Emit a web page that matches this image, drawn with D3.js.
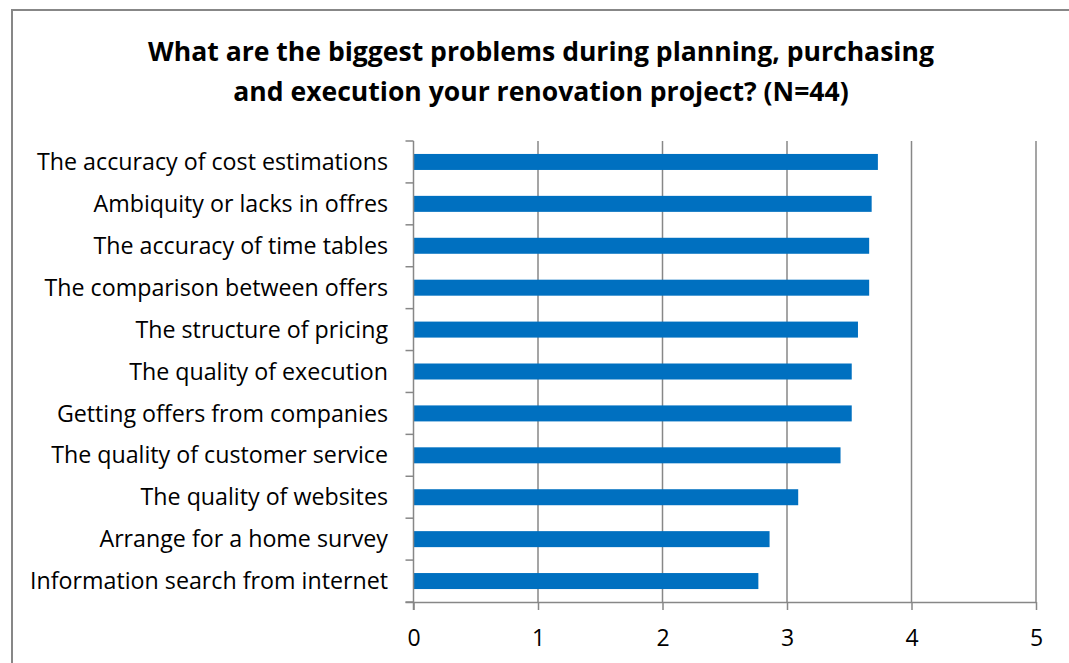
<!DOCTYPE html>
<html>
<head>
<meta charset="utf-8">
<script src="https://cdn.jsdelivr.net/npm/d3@7"></script>
<style>
  html, body { margin: 0; padding: 0; background: #fff; }
  svg { display: block; }
</style>
</head>
<body>
<svg id="chart" width="1069" height="663"></svg>
<script>
// Survey results: mean rating per problem area (N=44), top to bottom
const categories = [
  "The accuracy of cost estimations",
  "Ambiquity or lacks in offres",
  "The accuracy of time tables",
  "The comparison between offers",
  "The structure of pricing",
  "The quality of execution",
  "Getting offers from companies",
  "The quality of customer service",
  "The quality of websites",
  "Arrange for a home survey",
  "Information search from internet"
];
const values = [3.73, 3.68, 3.66, 3.66, 3.57, 3.52, 3.52, 3.43, 3.09, 2.86, 2.77];
const xTicks = [0, 1, 2, 3, 4, 5];
const titleLines = [
  "What are the biggest problems during planning, purchasing",
  "and execution your renovation project? (N=44)"
];

const svg = d3.select("#chart");
const W = 1069, H = 663;
const plot = { left: 413.5, right: 1036, top: 141, bottom: 602 };
const grey = "#878787";
const font = "'Open Sans', 'Noto Sans', sans-serif";

// Chart frame (left and top edges)
svg.append("path")
  .attr("d", `M12,${H} L12,10 L${W},10`)
  .attr("fill", "none")
  .attr("stroke", grey)
  .attr("stroke-width", 2);

const x = d3.scaleLinear().domain([0, 5]).range([plot.left, plot.right]);
const barFrac = 16 / ((plot.bottom - plot.top) / categories.length);
const y = d3.scaleBand()
  .domain(categories)
  .range([plot.top, plot.bottom])
  .paddingInner(1 - barFrac)
  .paddingOuter((1 - barFrac) / 2);

// Vertical gridlines
svg.append("g")
  .selectAll("line")
  .data(xTicks.filter(d => d > 0))
  .join("line")
  .attr("x1", d => x(d)).attr("x2", d => x(d))
  .attr("y1", plot.top).attr("y2", plot.bottom)
  .attr("stroke", grey).attr("stroke-width", 1.5);

// Bars
svg.append("g")
  .selectAll("rect")
  .data(categories)
  .join("rect")
  .attr("x", x(0))
  .attr("y", d => y(d))
  .attr("width", (d, i) => x(values[i]) - x(0))
  .attr("height", y.bandwidth())
  .attr("fill", "#0070C0");

// Bottom axis
const xAxis = d3.axisBottom(x).tickValues(xTicks).tickFormat(d3.format("d"))
  .tickSize(8).tickPadding(20);
const gx = svg.append("g")
  .attr("transform", `translate(0,${plot.bottom})`)
  .call(xAxis);
gx.select(".domain").attr("stroke", grey).attr("stroke-width", 1.5)
  .attr("d", `M${plot.left - 8},0.5H${plot.right}`);
gx.selectAll(".tick line").attr("stroke", grey).attr("stroke-width", 1.5);
gx.selectAll(".tick text")
  .attr("fill", "#000")
  .style("font-family", font)
  .style("font-size", "23px");

// Left axis: line with tick marks on category boundaries
const step = y.step();
const gy = svg.append("g");
gy.append("line")
  .attr("x1", plot.left).attr("x2", plot.left)
  .attr("y1", plot.top).attr("y2", plot.bottom + 8)
  .attr("stroke", grey).attr("stroke-width", 1.5);
gy.selectAll("line.tk")
  .data(d3.range(categories.length + 1))
  .join("line")
  .attr("class", "tk")
  .attr("x1", plot.left - 8).attr("x2", plot.left)
  .attr("y1", i => plot.top + i * step).attr("y2", i => plot.top + i * step)
  .attr("stroke", grey).attr("stroke-width", 1.5);

// Category labels
const labels = svg.append("g")
  .selectAll("text")
  .data(categories)
  .join("text")
  .attr("x", 388)
  .attr("y", d => y(d) + y.bandwidth() / 2)
  .attr("dy", "0.35em")
  .attr("text-anchor", "end")
  .attr("fill", "#000")
  .style("font-family", font)
  .style("font-size", "20px")
  .text(d => d);

// Size labels so the longest one spans its available width
const longest = d3.max(labels.nodes(), n => n.getComputedTextLength());
const labelSize = 20 * 358 / longest;
labels.style("font-size", labelSize + "px");

// Title
const title = svg.append("g")
  .selectAll("text")
  .data(titleLines)
  .join("text")
  .attr("x", 541)
  .attr("y", (d, i) => 61 + i * 40)
  .attr("text-anchor", "middle")
  .attr("fill", "#000")
  .style("font-family", font)
  .style("font-weight", "bold")
  .style("font-size", "26px")
  .text(d => d);
const t0 = title.nodes()[0].getComputedTextLength();
title.style("font-size", (26 * 786 / t0) + "px");
</script>
</body>
</html>
